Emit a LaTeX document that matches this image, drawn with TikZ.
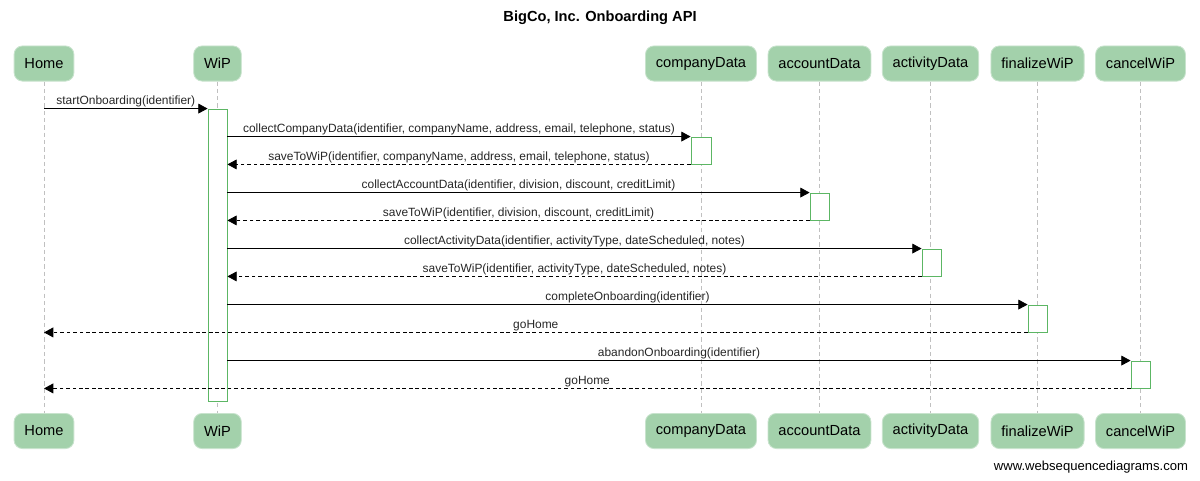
\documentclass[tikz,border=0pt]{standalone}
\usepackage{fontspec}
\setmainfont{Liberation Sans}
\definecolor{actorfill}{RGB}{163,209,171}
\definecolor{actgreen}{RGB}{92,182,100}
\definecolor{lifegray}{RGB}{192,192,192}
\usetikzlibrary{arrows.meta, positioning, fit}

\begin{document}
\begin{tikzpicture}[x=0.025cm, y=-0.025cm,
  actor/.style={rectangle, rounded corners=6pt, fill=actorfill, draw=actorfill!60!white,
                line width=0.6pt, font=\fontsize{10.4}{12}\selectfont,
                minimum height=25pt, inner xsep=7.4pt},
  act/.style={rectangle, draw=actgreen, fill=white, line width=0.6pt, inner sep=0pt},
  life/.style={draw=lifegray, line width=0.5pt, dash pattern=on 3pt off 2.2pt},
  msg/.style={-{Triangle[length=6.6pt, width=7pt]}, line width=0.6pt},
  ret/.style={msg, dash pattern=on 2.6pt off 2pt},
  lbl/.style={above, inner sep=0.8pt, font=\fontsize{8.5}{10}\selectfont, text=black!85}
]
  \useasboundingbox (0,0) rectangle (1200,480);

  % Title
  \node[font=\bfseries\fontsize{10.4}{12}\selectfont] (title) at (600,18) {BigCo, Inc. Onboarding API};

  % Participants (top)
  \node[actor] (hHome) at (44,63.5)    {Home};
  \node[actor] (hWiP)  at (217.5,63.5) {WiP};
  \node[actor] (hComp) at (701,63.5)   {companyData};
  \node[actor] (hAcc)  at (819.5,63.5) {accountData};
  \node[actor] (hAct)  at (930.5,63.5) {activityData};
  \node[actor] (hFin)  at (1037.5,63.5) {finalizeWiP};
  \node[actor] (hCan)  at (1140.5,63.5) {cancelWiP};

  % Participants (bottom)
  \node[actor] (fHome) at (44,431)    {Home};
  \node[actor] (fWiP)  at (217.5,431) {WiP};
  \node[actor] (fComp) at (701,431)   {companyData};
  \node[actor] (fAcc)  at (819.5,431) {accountData};
  \node[actor] (fAct)  at (930.5,431) {activityData};
  \node[actor] (fFin)  at (1037.5,431) {finalizeWiP};
  \node[actor] (fCan)  at (1140.5,431) {cancelWiP};

  % Lifelines
  \draw[life] (hHome) -- (fHome);
  \draw[life] (hWiP) -- (fWiP);
  \draw[life] (hComp) -- (fComp);
  \draw[life] (hAcc) -- (fAcc);
  \draw[life] (hAct) -- (fAct);
  \draw[life] (hFin) -- (fFin);
  \draw[life] (hCan) -- (fCan);

  % Activations
  \node[act, fit={(208,109) (227,401)}] (aWiP) {};
  \node[act, fit={(691,137) (711,164)}] (aComp) {};
  \node[act, fit={(810,193) (829,220)}] (aAcc) {};
  \node[act, fit={(922,249) (941,276)}] (aAct) {};
  \node[act, fit={(1028,305) (1047,332)}] (aFin) {};
  \node[act, fit={(1131,361) (1150,388)}] (aCan) {};

  % Messages
  \draw[msg] (hHome |- aWiP.north) -- node[lbl] {startOnboarding(identifier)} (aWiP.north west);
  \draw[msg] (aWiP.east |- aComp.north) --
    node[lbl] {collectCompanyData(identifier, companyName, address, email, telephone, status)} (aComp.north west);
  \draw[ret] (aComp.south west) --
    node[lbl] {saveToWiP(identifier, companyName, address, email, telephone, status)} (aWiP.east |- aComp.south);
  \draw[msg] (aWiP.east |- aAcc.north) --
    node[lbl] {collectAccountData(identifier, division, discount, creditLimit)} (aAcc.north west);
  \draw[ret] (aAcc.south west) --
    node[lbl] {saveToWiP(identifier, division, discount, creditLimit)} (aWiP.east |- aAcc.south);
  \draw[msg] (aWiP.east |- aAct.north) --
    node[lbl] {collectActivityData(identifier, activityType, dateScheduled, notes)} (aAct.north west);
  \draw[ret] (aAct.south west) --
    node[lbl] {saveToWiP(identifier, activityType, dateScheduled, notes)} (aWiP.east |- aAct.south);
  \draw[msg] (aWiP.east |- aFin.north) --
    node[lbl] {completeOnboarding(identifier)} (aFin.north west);
  \draw[ret] (aFin.south west) -- node[lbl] {goHome} (hHome |- aFin.south);
  \draw[msg] (aWiP.east |- aCan.north) --
    node[lbl] {abandonOnboarding(identifier)} (aCan.north west);
  \draw[ret] (aCan.south west) -- node[lbl] {goHome} (hHome |- aCan.south);

  % Watermark
  \node[anchor=east, font=\fontsize{9.3}{11}\selectfont] (wsd) at (1193,467) {www.websequencediagrams.com};
\end{tikzpicture}
\end{document}
